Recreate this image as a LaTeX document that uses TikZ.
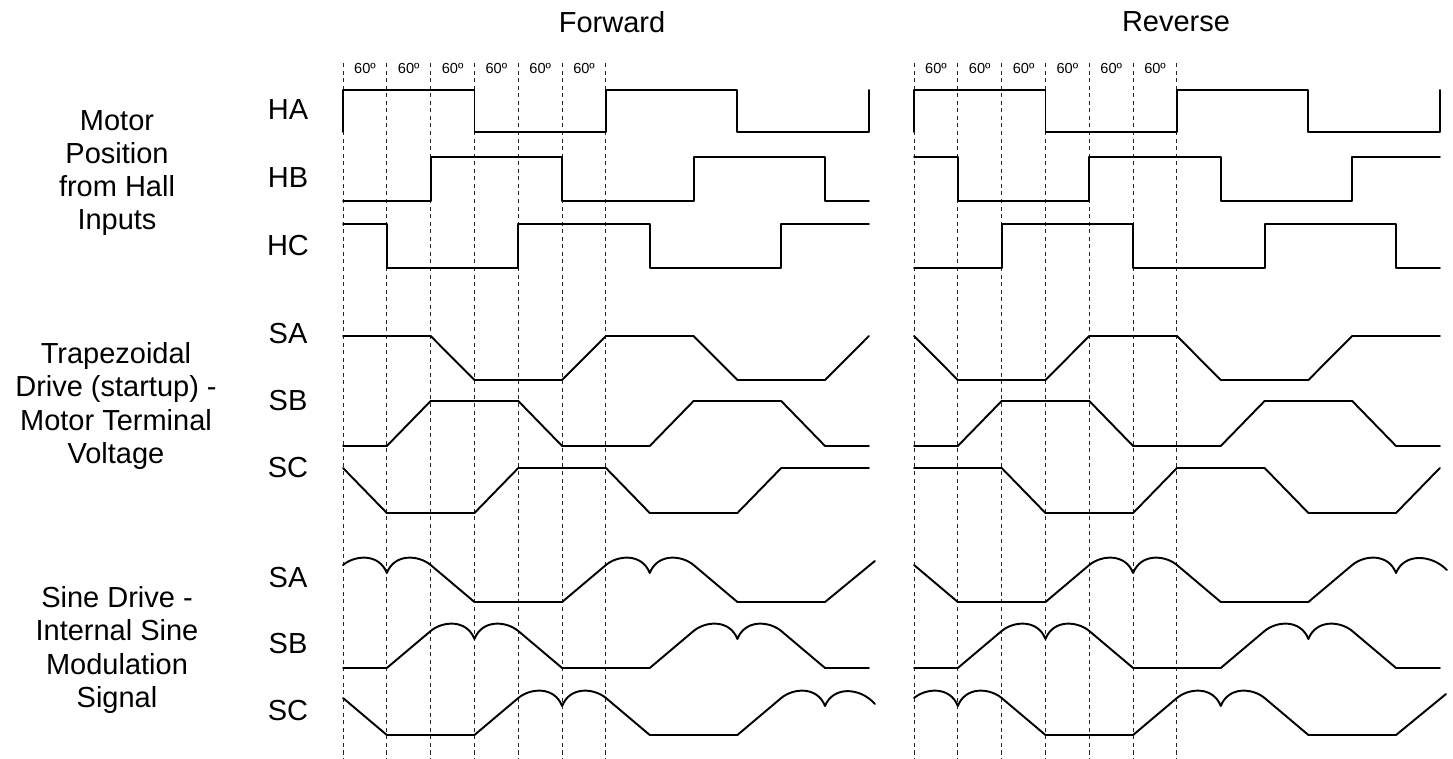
\documentclass[tikz,border=0pt]{standalone}
\usepackage{fontspec}
\setmainfont{Liberation Sans}
\newcommand\hump[2]{.. controls ({#1+0.274},{#2-10}) and ({#1+0.821},{#2-12}) .. ({#1+1},{#2+8}) .. controls ({#1+1.179},{#2-12}) and ({#1+1.726},{#2-10}) .. ({#1+2},{#2})}
\begin{document}
\begin{tikzpicture}[x=0.02cm,y=-0.02cm,
  sig/.style={line width=1.1pt, line join=round, line cap=round},
  gridline/.style={line width=0.55pt, dash pattern=on 2.3pt off 2pt, black!85},
  lbl/.style={font=\fontsize{16.5}{18.8}\selectfont, align=center, inner sep=0pt},
  deg/.style={font=\fontsize{8.3}{9}\selectfont, inner sep=0pt}]
\useasboundingbox (0,0) rectangle (1453,759);

% headers
\node[lbl] (fwd) at (612,22) {Forward};
\node[lbl] (rev) at (1176,22) {Reverse};

% group labels
\node[lbl] (g1) at (117,173) {Motor\\Position\\from Hall\\Inputs};
\node[lbl] (g2) at (116,406) {Trapezoidal\\Drive (startup) -\\Motor Terminal\\Voltage};
\node[lbl] (g3) at (117,650) {Sine Drive -\\Internal Sine\\Modulation\\Signal};

% signal labels
\node[lbl] (lHA) at (288,110) {HA};
\node[lbl] (lHB) at (288,178) {HB};
\node[lbl] (lHC) at (288,246) {HC};
\node[lbl] (lSA1) at (288,334) {SA};
\node[lbl] (lSB1) at (288,401) {SB};
\node[lbl] (lSC1) at (288,468) {SC};
\node[lbl] (lSA2) at (288,578) {SA};
\node[lbl] (lSB2) at (288,644) {SB};
\node[lbl] (lSC2) at (288,711) {SC};

% ---------------- Forward ----------------
\begin{scope}[shift={(343,0)}, x=0.8766cm]
  \foreach \k in {0,...,6} \draw[gridline] (\k,63) -- (\k,759);
  \foreach \k in {0,...,5} \node[deg] (fdeg\k) at (\k+0.5,68) {60º};
  % Hall
  \draw[sig] (0,132)--(0,90)--(3,90)--(3,132)--(6,132)--(6,90)--(9,90)--(9,132)--(12,132)--(12,90);
  \draw[sig] (0,201)--(2,201)--(2,157)--(5,157)--(5,201)--(8,201)--(8,157)--(11,157)--(11,201)--(12,201);
  \draw[sig] (0,224)--(1,224)--(1,268)--(4,268)--(4,224)--(7,224)--(7,268)--(10,268)--(10,224)--(12,224);
  % Trapezoidal
  \draw[sig] (0,336)--(2,336)--(3,380)--(5,380)--(6,336)--(8,336)--(9,380)--(11,380)--(12,336);
  \draw[sig] (0,446)--(1,446)--(2,401)--(4,401)--(5,446)--(7,446)--(8,401)--(10,401)--(11,446)--(12,446);
  \draw[sig] (0,468)--(1,513)--(3,513)--(4,468)--(6,468)--(7,513)--(9,513)--(10,468)--(12,468);
  % Sine
  \draw[sig] (0,565) \hump{0}{565} --(3,602)--(5,602)--(6,565) \hump{6}{565} --(9,602)--(11,602)--(12.137,561);
  \draw[sig] (0,668)--(1,668)--(2,631) \hump{2}{631} --(5,668)--(7,668)--(8,631) \hump{8}{631} --(11,668)--(12,668);
  \draw[sig] (0,698)--(1,735)--(3,735)--(4,698) \hump{4}{698} --(7,735)--(9,735)--(10,698)
     .. controls (10.274,688) and (10.821,686) .. (11,706) .. controls (11.179,686) and (11.8,687) .. (12.137,704);
\end{scope}

% ---------------- Reverse ----------------
\begin{scope}[shift={(914,0)}, x=0.8766cm]
  \foreach \k in {0,...,6} \draw[gridline] (\k,63) -- (\k,759);
  \foreach \k in {0,...,5} \node[deg] (rdeg\k) at (\k+0.5,68) {60º};
  % Hall
  \draw[sig] (0,132)--(0,90)--(3,90)--(3,132)--(6,132)--(6,90)--(9,90)--(9,132)--(12,132)--(12,90);
  \draw[sig] (0,157)--(1,157)--(1,201)--(4,201)--(4,157)--(7,157)--(7,201)--(10,201)--(10,157)--(12,157);
  \draw[sig] (0,268)--(2,268)--(2,224)--(5,224)--(5,268)--(8,268)--(8,224)--(11,224)--(11,268)--(12,268);
  % Trapezoidal
  \draw[sig] (0,336)--(1,380)--(3,380)--(4,336)--(6,336)--(7,380)--(9,380)--(10,336)--(12,336);
  \draw[sig] (0,446)--(1,446)--(2,401)--(4,401)--(5,446)--(7,446)--(8,401)--(10,401)--(11,446)--(12,446);
  \draw[sig] (0,468)--(2,468)--(3,513)--(5,513)--(6,468)--(8,468)--(9,513)--(11,513)--(12,468);
  % Sine
  \draw[sig] (0,565)--(1,602)--(3,602)--(4,565) \hump{4}{565} --(7,602)--(9,602)--(10,565)
     .. controls (10.274,555) and (10.821,553) .. (11,573) .. controls (11.179,553) and (11.8,554) .. (12.16,570);
  \draw[sig] (0,668)--(1,668)--(2,631) \hump{2}{631} --(5,668)--(7,668)--(8,631) \hump{8}{631} --(11,668)--(12,668);
  \draw[sig] (0,698) \hump{0}{698} --(3,735)--(5,735)--(6,698) \hump{6}{698} --(9,735)--(11,735)--(12.14,694);
\end{scope}
\end{tikzpicture}
\end{document}
